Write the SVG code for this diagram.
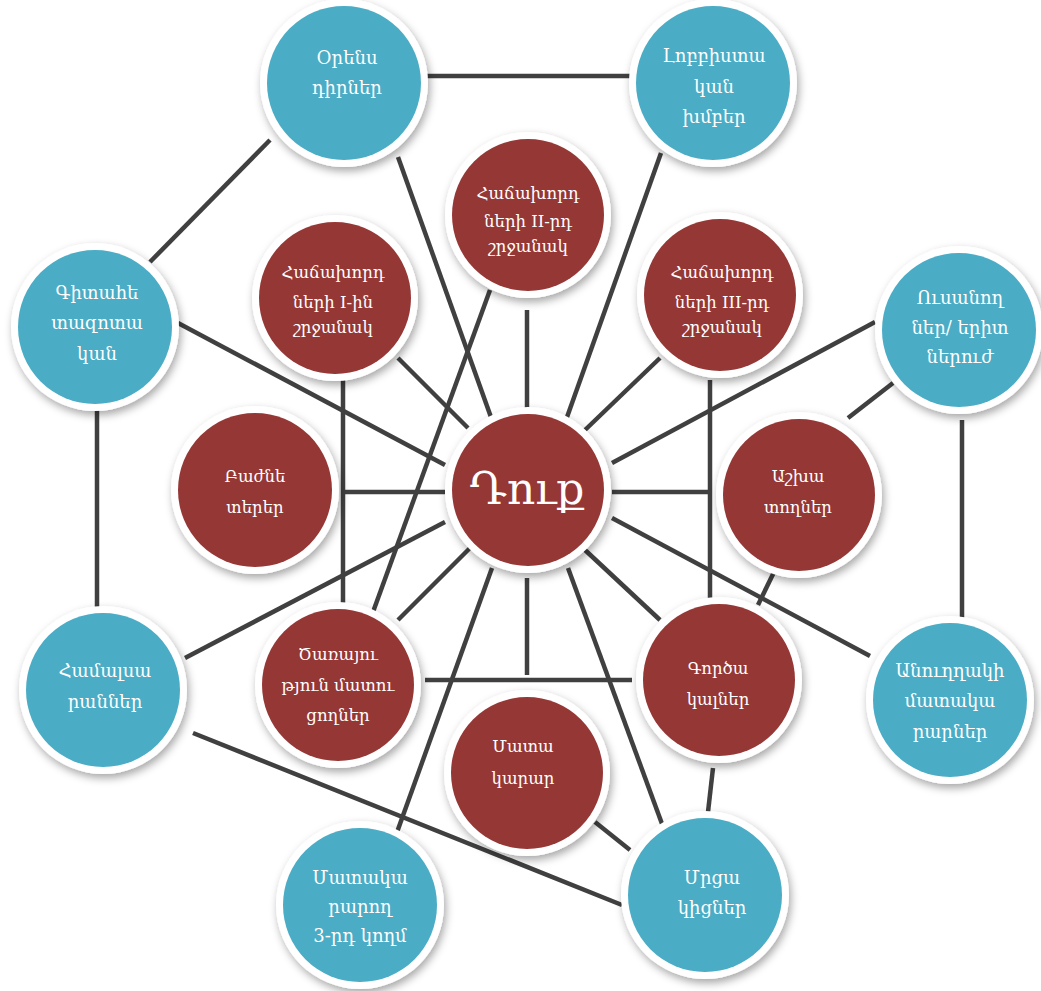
<svg xmlns="http://www.w3.org/2000/svg" width="1041" height="991" viewBox="0 0 1041 991">
  <defs>
    <filter id="shadow" x="-30%" y="-30%" width="160%" height="160%">
      <feDropShadow dx="2" dy="4" stdDeviation="4" flood-color="#000" flood-opacity="0.35"/>
    </filter>
  </defs>
  <style>
    .link { stroke: #404040; stroke-width: 4.5; fill: none; stroke-linecap: butt; }
    .ring { fill: #ffffff; filter: url(#shadow); }
    .blue { fill: #4AACC5; }
    .red { fill: #953735; }
    text { font-family: "DejaVu Serif", serif; fill: #ffffff; text-anchor: middle; dominant-baseline: central; }
    .b { font-size: 18px; }
    .r { font-size: 16.5px; }
    .big { font-size: 44px; }
  </style>
  <rect width="1041" height="991" fill="#ffffff"/>

  <g id="connectors">
    <line class="link" x1="425" y1="76" x2="632" y2="76"/>
    <line class="link" x1="270" y1="140" x2="150" y2="262"/>
    <line class="link" x1="398" y1="157" x2="492" y2="420"/>
    <line class="link" x1="661" y1="153" x2="566" y2="420"/>
    <line class="link" x1="178" y1="323" x2="445" y2="465"/>
    <line class="link" x1="97" y1="410" x2="97" y2="615"/>
    <line class="link" x1="875" y1="322" x2="612" y2="463"/>
    <line class="link" x1="893" y1="383" x2="848" y2="418"/>
    <line class="link" x1="962" y1="420" x2="962" y2="618"/>
    <line class="link" x1="185" y1="658" x2="445" y2="522"/>
    <line class="link" x1="193" y1="733" x2="622" y2="905"/>
    <line class="link" x1="870" y1="656" x2="612" y2="518"/>
    <line class="link" x1="345" y1="492" x2="445" y2="492"/>
    <line class="link" x1="612" y1="492" x2="712" y2="492"/>
    <line class="link" x1="527" y1="310" x2="527" y2="408"/>
    <line class="link" x1="398" y1="358" x2="468" y2="428"/>
    <line class="link" x1="660" y1="358" x2="585" y2="430"/>
    <line class="link" x1="470" y1="548" x2="398" y2="620"/>
    <line class="link" x1="585" y1="550" x2="660" y2="620"/>
    <line class="link" x1="527" y1="578" x2="527" y2="675"/>
    <line class="link" x1="492" y1="568" x2="396" y2="835"/>
    <line class="link" x1="568" y1="568" x2="665" y2="832"/>
    <line class="link" x1="343" y1="380" x2="343" y2="612"/>
    <line class="link" x1="490" y1="290" x2="373" y2="612"/>
    <line class="link" x1="710" y1="380" x2="710" y2="605"/>
    <line class="link" x1="775" y1="570" x2="758" y2="605"/>
    <line class="link" x1="425" y1="680" x2="632" y2="680"/>
    <line class="link" x1="713" y1="768" x2="708" y2="812"/>
    <line class="link" x1="595" y1="822" x2="630" y2="850"/>
  </g>

  <!-- outer ring of external stakeholders -->
  <g id="lawmakers">
    <circle class="ring" cx="344" cy="83" r="84"/>
    <circle class="blue" cx="344" cy="83" r="77"/>
    <text class="b" x="347" y="57">Օրենս</text>
    <text class="b" x="347" y="87">դիրներ</text>
  </g>
  <g id="lobby-groups">
    <circle class="ring" cx="713" cy="83" r="84"/>
    <circle class="blue" cx="713" cy="83" r="77"/>
    <text class="b" x="714" y="55">Լոբբիստա</text>
    <text class="b" x="714" y="86">կան</text>
    <text class="b" x="714" y="116">խմբեր</text>
  </g>
  <g id="research">
    <circle class="ring" cx="95" cy="327" r="84"/>
    <circle class="blue" cx="95" cy="327" r="77"/>
    <text class="b" x="97" y="292">Գիտահե</text>
    <text class="b" x="97" y="322">տազոտա</text>
    <text class="b" x="97" y="353">կան</text>
  </g>
  <g id="students">
    <circle class="ring" cx="959" cy="330" r="84"/>
    <circle class="blue" cx="959" cy="330" r="77"/>
    <text class="b" x="960" y="297">Ուսանող</text>
    <text class="b" x="960" y="327">ներ/ երիտ</text>
    <text class="b" x="960" y="356">ներուժ</text>
  </g>
  <g id="universities">
    <circle class="ring" cx="103" cy="690" r="84"/>
    <circle class="blue" cx="103" cy="690" r="77"/>
    <text class="b" x="105" y="670">Համալսա</text>
    <text class="b" x="105" y="701">րաններ</text>
  </g>
  <g id="indirect-suppliers">
    <circle class="ring" cx="950" cy="700" r="84"/>
    <circle class="blue" cx="950" cy="700" r="77"/>
    <text class="b" x="950" y="670">Անուղղակի</text>
    <text class="b" x="950" y="700">մատակա</text>
    <text class="b" x="950" y="731">րարներ</text>
  </g>
  <g id="third-party-suppliers">
    <circle class="ring" cx="360" cy="905" r="84"/>
    <circle class="blue" cx="360" cy="905" r="77"/>
    <text class="b" x="360" y="877">Մատակա</text>
    <text class="b" x="360" y="906">րարող</text>
    <text class="b" x="360" y="935">3-րդ կողմ</text>
  </g>
  <g id="competitors">
    <circle class="ring" cx="705" cy="895" r="84"/>
    <circle class="blue" cx="705" cy="895" r="77"/>
    <text class="b" x="712" y="877">Մրցա</text>
    <text class="b" x="712" y="907">կիցներ</text>
  </g>

  <!-- inner ring of direct stakeholders -->
  <g id="shareholders">
    <circle class="ring" cx="255" cy="490" r="84"/>
    <circle class="red" cx="255" cy="490" r="77"/>
    <text class="r" x="255" y="476">Բաժնե</text>
    <text class="r" x="255" y="507">տերեր</text>
  </g>
  <g id="customers-1">
    <circle class="ring" cx="335" cy="298" r="83"/>
    <circle class="red" cx="335" cy="298" r="76"/>
    <text class="r" x="333" y="272">Հաճախորդ</text>
    <text class="r" x="333" y="302">ների I-ին</text>
    <text class="r" x="333" y="327">շրջանակ</text>
  </g>
  <g id="customers-2">
    <circle class="ring" cx="528" cy="215" r="83"/>
    <circle class="red" cx="528" cy="215" r="76"/>
    <text class="r" x="528" y="193">Հաճախորդ</text>
    <text class="r" x="528" y="221">ների II-րդ</text>
    <text class="r" x="528" y="246">շրջանակ</text>
  </g>
  <g id="customers-3">
    <circle class="ring" cx="720" cy="295" r="83"/>
    <circle class="red" cx="720" cy="295" r="76"/>
    <text class="r" x="722" y="272">Հաճախորդ</text>
    <text class="r" x="722" y="302">ների III-րդ</text>
    <text class="r" x="722" y="327">շրջանակ</text>
  </g>
  <g id="employees">
    <circle class="ring" cx="799" cy="495" r="83"/>
    <circle class="red" cx="799" cy="495" r="76"/>
    <text class="r" x="798" y="476">Աշխա</text>
    <text class="r" x="798" y="507">տողներ</text>
  </g>
  <g id="service-providers">
    <circle class="ring" cx="338" cy="685" r="83"/>
    <circle class="red" cx="338" cy="685" r="76"/>
    <text class="r" x="338" y="654">Ծառայու</text>
    <text class="r" x="338" y="685">թյուն մատու</text>
    <text class="r" x="338" y="715">ցողներ</text>
  </g>
  <g id="agents">
    <circle class="ring" cx="719" cy="680" r="83"/>
    <circle class="red" cx="719" cy="680" r="76"/>
    <text class="r" x="718" y="668">Գործա</text>
    <text class="r" x="718" y="699">կալներ</text>
  </g>
  <g id="supplier">
    <circle class="ring" cx="527" cy="773" r="83"/>
    <circle class="red" cx="527" cy="773" r="76"/>
    <text class="r" x="523" y="746">Մատա</text>
    <text class="r" x="523" y="778">կարար</text>
  </g>
  <g id="you">
    <circle class="ring" cx="528" cy="490" r="83"/>
    <circle class="red" cx="528" cy="490" r="76"/>
    <text class="big" x="527" y="488">Դուք</text>
  </g>
</svg>
